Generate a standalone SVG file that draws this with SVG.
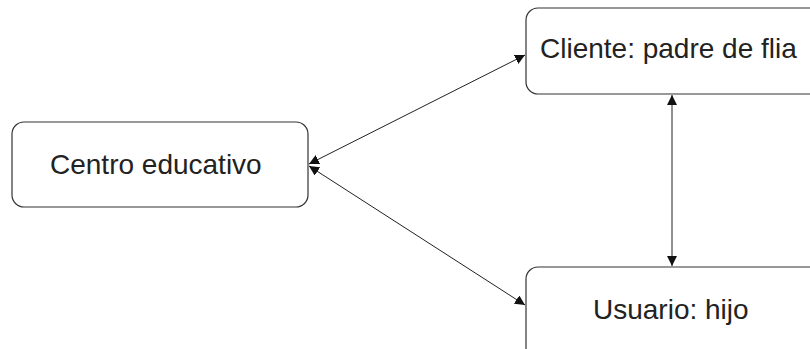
<svg xmlns="http://www.w3.org/2000/svg" width="810" height="349" viewBox="0 0 810 349">
<style>
.box{fill:#fff;stroke:#333;stroke-width:1.2}
.lbl{font-family:"Liberation Sans",Arial,sans-serif;font-size:28px;fill:#222}
.con{stroke:#222;stroke-width:1;fill:none}
</style>
<defs>
<marker id="ah" viewBox="0 0 10 10" refX="10" refY="5" markerWidth="10" markerHeight="10" markerUnits="userSpaceOnUse" orient="auto-start-reverse">
<path d="M0,0 L10,5 L0,10 Z" fill="#111"/>
</marker>
</defs>
<rect width="810" height="349" fill="#fff"/>
<g id="centro">
<rect class="box" x="12" y="122" width="296" height="85" rx="12"/>
<text class="lbl" x="50" y="174">Centro educativo</text>
</g>
<g id="cliente">
<rect class="box" x="526" y="8" width="300" height="86" rx="12"/>
<text class="lbl" x="540" y="58">Cliente: padre de flia</text>
</g>
<g id="usuario">
<rect class="box" x="526" y="267" width="300" height="100" rx="12"/>
<text class="lbl" x="593" y="319">Usuario: hijo</text>
</g>
<g id="connectors">
<line class="con" x1="309" y1="164" x2="525" y2="55" marker-start="url(#ah)" marker-end="url(#ah)"/>
<line class="con" x1="309" y1="166" x2="525" y2="305" marker-start="url(#ah)" marker-end="url(#ah)"/>
<line class="con" x1="672" y1="95" x2="672" y2="266" marker-start="url(#ah)" marker-end="url(#ah)"/>
</g>
</svg>
